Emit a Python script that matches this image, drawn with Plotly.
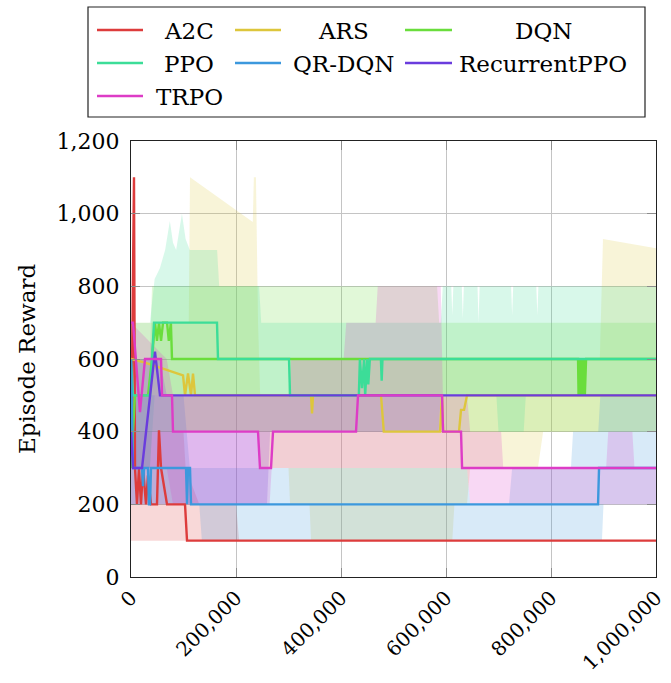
import plotly.graph_objects as go

# ---------------- data (x in thousands of steps, y = episode reward) ----------------
SERIES = ["A2C", "ARS", "DQN", "PPO", "QR-DQN", "RecurrentPPO", "TRPO"]
COLORS = ["#dd3c3c", "#ddc63c", "#6add3c", "#3cdd98", "#3c98dd", "#6a3cdd", "#dd3cc6"]

# median lines
A2C_X = [0, 5.7, 7.6, 11.4, 15.2, 19, 22.9, 28.6, 32.4, 38.1, 49.5, 53.3, 57.2, 68.6, 102.9, 106.7, 1000]
A2C_Y = [300, 1100, 300, 200, 300, 200, 300, 200, 280, 200, 200, 404, 300, 200, 200, 100, 100]

ARS_X = [0, 26.7, 99.1, 102.9, 108.6, 114.3, 118.1, 121.9, 342.9, 344.8, 346.7, 476.2, 481.5, 588.6, 592.5, 594.4, 624.8, 628.6, 634.4, 640, 1000]
ARS_Y = [600, 590, 555, 500, 560, 500, 560, 500, 500, 450, 500, 500, 400, 400, 500, 400, 400, 460, 460, 500, 500]

DQN_X = [0, 7.6, 32.4, 40, 45.7, 49.5, 53.3, 57.2, 61, 68.6, 72, 76, 78.1, 851.5, 852.5, 853.5, 854.5, 855.5, 856.5, 857.5, 858.5, 859.5, 860.5, 861.5, 862.5, 863.5, 864.5, 865.5, 866.8, 1000]
DQN_Y = [300, 500, 500, 600, 700, 650, 700, 650, 700, 700, 650, 700, 600, 600, 500, 600, 500, 600, 500, 600, 500, 600, 500, 600, 500, 600, 500, 600, 600, 600]

PPO_X = [0, 3.8, 36.2, 40, 43.8, 163.8, 165.7, 301, 302.9, 434, 436, 440, 444, 446, 450, 452, 455, 476, 477.5, 479, 1000]
PPO_Y = [600, 500, 500, 600, 700, 700, 600, 600, 500, 500, 600, 520, 600, 500, 600, 530, 600, 600, 540, 600, 600]

QR_X = [0, 3.8, 21, 22.9, 24.8, 32.4, 34.3, 36.2, 38.1, 104.8, 106.7, 108.6, 112.4, 114.3, 889.6, 891.5, 1000]
QR_Y = [600, 300, 300, 250, 300, 300, 200, 200, 300, 300, 200, 300, 300, 200, 200, 300, 300]

RPPO_X = [0, 3.8, 21, 45.7, 55.2, 1000]
RPPO_Y = [400, 300, 300, 620, 500, 500]

TRPO_X = [0, 3.8, 17.1, 26.7, 57.2, 59.1, 78.1, 80, 241.9, 245.7, 266.7, 270.5, 428.6, 432.4, 592.5, 594.4, 628.6, 630.6, 1000]
TRPO_Y = [700, 700, 454, 600, 600, 500, 500, 400, 400, 300, 300, 400, 400, 500, 500, 400, 400, 300, 300]

# shaded bands (min / max)
A2C_BX = [0, 4, 6, 30, 100, 104, 130, 200, 206, 1000]
A2C_LO = [100, 100, 100, 100, 100, 100, 100, 100, 100, 100]
A2C_HI = [300, 400, 400, 400, 400, 300, 200, 200, 100, 100]

ARS_BX = [0, 110, 112.4, 232, 234, 238, 242, 246, 300, 303, 340, 343, 612, 616, 640, 646, 775, 785, 893, 899, 1000]
ARS_LO = [400, 400, 400, 400, 400, 400, 400, 300, 300, 200, 200, 100, 100, 200, 200, 300, 300, 400, 400, 400, 400]
ARS_HI = [700, 700, 1100, 977, 1100, 1100, 700, 500, 500, 600, 600, 600, 600, 600, 600, 600, 600, 600, 600, 930, 905]

DQN_BX = [0, 36, 40, 583, 587, 1000]
DQN_LO = [300, 300, 400, 400, 400, 400]
DQN_HI = [600, 600, 800, 800, 700, 700]

PPO_BX = [0, 36, 45, 55, 65, 74, 80, 86, 97, 104, 112, 164, 168, 244, 248, 590, 594, 610, 612, 614, 630, 632, 634, 660, 662, 664, 696, 700, 724, 726, 728, 748, 752, 772, 774, 776, 1000]
PPO_LO = [300, 300, 500, 500, 500, 500, 500, 500, 500, 500, 500, 500, 500, 500, 500, 500, 500, 500, 500, 500, 500, 500, 500, 500, 500, 500, 500, 400, 400, 400, 400, 400, 500, 500, 500, 500, 500]
PPO_HI = [700, 700, 820, 850, 900, 980, 920, 900, 1000, 930, 900, 900, 800, 800, 700, 700, 800, 800, 720, 800, 800, 710, 800, 800, 700, 800, 800, 800, 800, 720, 800, 800, 800, 800, 720, 800, 800]

QR_BX = [0, 100, 112, 130, 135, 640, 646, 720, 726, 838, 842, 890, 894, 897, 900, 1000]
QR_LO = [200, 200, 200, 200, 100, 100, 100, 100, 100, 100, 100, 100, 100, 100, 200, 200]
QR_HI = [500, 500, 300, 300, 300, 300, 200, 200, 300, 300, 400, 400, 500, 500, 500, 500]

RPPO_BX = [0, 55, 68, 259, 265, 586, 590, 1000]
RPPO_LO = [200, 200, 200, 200, 400, 400, 500, 500]
RPPO_HI = [600, 600, 500, 500, 500, 500, 500, 500]

TRPO_BX = [0, 68, 80, 264, 268, 302, 305, 405, 410, 466, 470, 590, 594, 640, 646, 705, 709, 905, 909, 955, 959, 1000]
TRPO_LO = [300, 300, 200, 200, 300, 300, 300, 300, 300, 300, 300, 300, 300, 300, 200, 200, 200, 200, 200, 200, 200, 200]
TRPO_HI = [700, 600, 500, 500, 500, 500, 600, 600, 700, 700, 800, 800, 500, 500, 400, 400, 300, 300, 400, 400, 300, 300]

LINES = [(A2C_X, A2C_Y), (ARS_X, ARS_Y), (DQN_X, DQN_Y), (PPO_X, PPO_Y), (QR_X, QR_Y), (RPPO_X, RPPO_Y), (TRPO_X, TRPO_Y)]
BANDS = [(A2C_BX, A2C_LO, A2C_HI), (ARS_BX, ARS_LO, ARS_HI), (DQN_BX, DQN_LO, DQN_HI), (PPO_BX, PPO_LO, PPO_HI),
         (QR_BX, QR_LO, QR_HI), (RPPO_BX, RPPO_LO, RPPO_HI), (TRPO_BX, TRPO_LO, TRPO_HI)]

X_TICKS = [0, 200000, 400000, 600000, 800000, 1000000]
X_TICK_TEXT = ["0", "200,000", "400,000", "600,000", "800,000", "1,000,000"]
Y_TICKS = [0, 200, 400, 600, 800, 1000, 1200]
Y_TICK_TEXT = ["0", "200", "400", "600", "800", "1,000", "1,200"]
STEP_UNIT = 1000

FONT = "DejaVu Serif"


def rgba(hex_color, a):
    h = hex_color.lstrip("#")
    r, g, b = int(h[0:2], 16), int(h[2:4], 16), int(h[4:6], 16)
    return f"rgba({r},{g},{b},{a})"


fig = go.Figure()

# bands
for name, color, (bx, lo, hi) in zip(SERIES, COLORS, BANDS):
    xs = [v * STEP_UNIT for v in bx]
    fig.add_trace(go.Scatter(
        x=xs + xs[::-1], y=hi + lo[::-1], fill="toself", fillcolor=rgba(color, 0.2),
        line=dict(width=0), mode="lines", hoverinfo="skip", showlegend=False, name=name + " range"))

# median lines
for name, color, (lx, ly) in zip(SERIES, COLORS, LINES):
    fig.add_trace(go.Scatter(
        x=[v * STEP_UNIT for v in lx], y=ly, mode="lines", name=name,
        line=dict(color=color, width=2.4), showlegend=False))

# ---------------- layout ----------------
W, H = 671, 683
L, R, T, B = 131, 15, 141, 106
PW, PH = W - L - R, H - T - B


def px_x(px):
    return (px - L) / PW


def px_y(py):
    return (H - B - py) / PH


shapes = []
annotations = []
# legend box
shapes.append(dict(type="rect", xref="paper", yref="paper", x0=px_x(88), x1=px_x(645), y0=px_y(117), y1=px_y(7),
                   line=dict(color="#222", width=1.2), fillcolor="white", layer="above"))
cols = [(97, 143, 189), (235, 281, 343), (405, 452, 543)]
rows = [30, 63, 96]
for i, (name, color) in enumerate(zip(SERIES, COLORS)):
    r, c = divmod(i, 3)
    x0, x1, xc = cols[c]
    yy = rows[r]
    shapes.append(dict(type="line", xref="paper", yref="paper", x0=px_x(x0), x1=px_x(x1), y0=px_y(yy), y1=px_y(yy),
                       line=dict(color=color, width=2.5), layer="above"))
    annotations.append(dict(text=name, xref="paper", yref="paper", x=px_x(xc), y=px_y(yy + 1), xanchor="center",
                            yanchor="middle", showarrow=False, font=dict(family=FONT, size=23, color="black")))

fig.update_layout(
    width=W, height=H, autosize=False,
    margin=dict(l=L, r=R, t=T, b=B, pad=0),
    paper_bgcolor="white", plot_bgcolor="white",
    font=dict(family=FONT, size=22, color="black"),
    shapes=shapes, annotations=annotations, showlegend=False,
    xaxis=dict(range=[0, 1000000], tickvals=X_TICKS, ticktext=X_TICK_TEXT, tickangle=-45,
               showgrid=True, gridcolor="#c4c4c4", gridwidth=1, zeroline=False, automargin=False,
               showline=True, linecolor="#222", linewidth=1.2, mirror="allticks",
               ticks="inside", ticklen=9, tickcolor="#8c8c8c", tickwidth=1.3,
               ticklabelstandoff=0,
               tickfont=dict(family=FONT, size=20)),
    yaxis=dict(range=[0, 1200], tickvals=Y_TICKS, ticktext=Y_TICK_TEXT,
               showgrid=True, gridcolor="#c4c4c4", gridwidth=1, zeroline=False, automargin=False,
               showline=True, linecolor="#222", linewidth=1.2, mirror="allticks",
               ticks="inside", ticklen=9, tickcolor="#8c8c8c", tickwidth=1.3,
               ticklabelstandoff=6,
               tickfont=dict(family=FONT, size=22),
               title=dict(text="Episode Reward", font=dict(family=FONT, size=23), standoff=14)),
)

fig.write_html("out.html")
